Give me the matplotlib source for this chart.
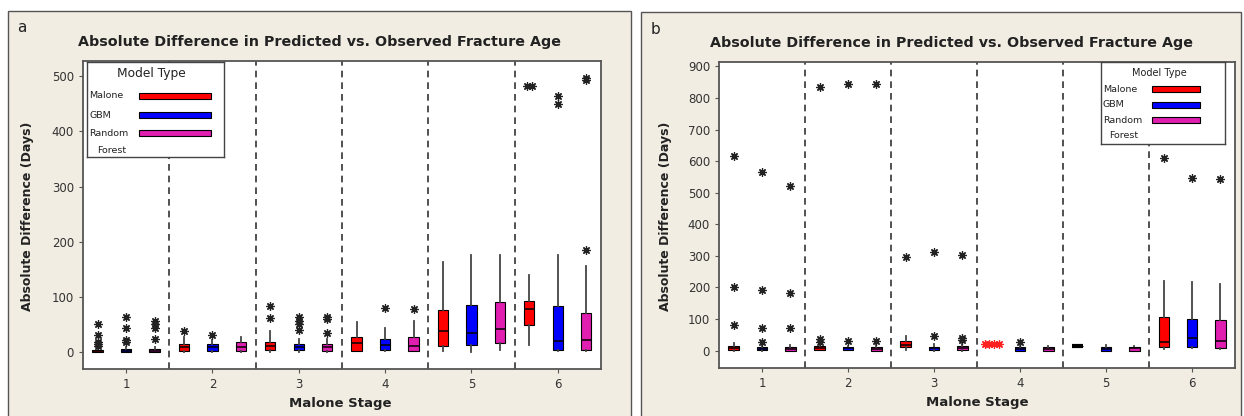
import matplotlib
matplotlib.use("Agg")
import matplotlib.pyplot as plt
from matplotlib.patches import Rectangle

# ---- data ----
stages = [1, 2, 3, 4, 5, 6]
models = ["Malone", "GBM", "Random\n Forest"]
model_colors = ["#FF0000", "#0000FF", "#E01EB0"]

# panel a: per model, per stage -> q1, median, q3, whisker low, whisker high
a_q1 = [[1, 3, 4, 3, 12, 50], [1, 3, 4, 5, 14, 5], [1, 2, 2, 3, 17, 4]]
a_med = [[3, 10, 11, 17, 38, 78], [3, 9, 10, 14, 35, 20], [3, 10, 9, 12, 42, 22]]
a_q3 = [[5, 16, 19, 27, 77, 93], [6, 15, 15, 25, 85, 84], [6, 18, 15, 27, 92, 71]]
a_lo = [[0, 1, 1, 2, 2, 14], [0, 1, 1, 3, 0, 2], [0, 1, 1, 2, 4, 3]]
a_hi = [[9, 28, 39, 55, 163, 140], [10, 22, 25, 44, 176, 176], [10, 27, 25, 57, 176, 156]]
a_out = [
    [[51, 31, 19, 15, 12], [38], [84, 62], [], [], [481, 481]],
    [[64, 45, 22, 19], [31], [64, 57, 52, 40], [81], [], [463, 450]],
    [[57, 52, 44, 24], [], [64, 60, 35], [79], [], [497, 492, 185]],
]

# panel b
b_q1 = [[2, 3, 10, None, 15, 11], [1, 3, 2, 0, 0, 13], [0, 0, 3, 0, 0, 7]]
b_med = [[8, 8, 18, None, 15, 28], [6, 7, 7, 5, 5, 39], [4, 4, 8, 4, 7, 32]]
b_q3 = [[14, 16, 30, None, 15, 107], [12, 10, 12, 10, 12, 101], [10, 12, 15, 10, 12, 96]]
b_lo = [[0, 1, 3, None, 15, 5], [0, 1, 0, 0, 0, 8], [0, 0, 0, 0, 0, 4]]
b_hi = [[25, 25, 45, None, 15, 222], [20, 15, 22, 15, 18, 217], [18, 18, 22, 16, 15, 212]]
b_out = [
    [[617, 200, 80], [834, 38, 28], [298], [], [], [611]],
    [[566, 191, 72, 28], [845, 32], [311, 45], [26], [], [548]],
    [[521, 182, 72], [845, 30], [304, 40, 35], [], [], [545]],
]
# Malone, stage 4 in panel b: only red stars
b_red_pts = [20, 20, 20, 20]

offsets = [-0.33, 0.0, 0.33]
STAR = (8, 2, 0)


def draw_stars(ax, x, vals, color="#222222", step=0.055):
    seen = {}
    for v in vals:
        seen[v] = seen.get(v, 0) + 1
    for v, n in seen.items():
        for k in range(n):
            dx = (k - (n - 1) / 2) * step
            ax.plot(x + dx, v, marker=STAR, ms=6, mew=0.9, color=color, ls="none")


def draw_panel(ax, q1, med, q3, lo, hi, outl):
    for m in range(3):
        stats, pos = [], []
        for s in range(6):
            if q1[m][s] is None:
                continue
            stats.append(dict(q1=q1[m][s], med=med[m][s], q3=q3[m][s],
                              whislo=lo[m][s], whishi=hi[m][s], fliers=[]))
            pos.append(stages[s] + offsets[m])
        bp = ax.bxp(stats, positions=pos, widths=0.12, patch_artist=True,
                    showcaps=False, showfliers=False,
                    boxprops=dict(facecolor=model_colors[m], edgecolor="black", linewidth=0.8),
                    medianprops=dict(color="black", linewidth=1.1),
                    whiskerprops=dict(color="#444444", linewidth=1.3))
        # flat boxes (all values equal) show as a thick black bar
        for st, mline in zip(stats, bp["medians"]):
            if st["q1"] == st["q3"]:
                mline.set_linewidth(3)
        for s in range(6):
            draw_stars(ax, stages[s] + offsets[m], outl[m][s])
    for xv in [1.5, 2.5, 3.5, 4.5, 5.5]:
        ax.axvline(xv, color="#333333", ls=(0, (4, 3)), lw=1.2, zorder=0)
    ax.set_xlim(0.5, 6.5)
    ax.set_xticks(stages)
    ax.set_xticklabels([str(s) for s in stages])
    for sp in ax.spines.values():
        sp.set_color("#555555")
        sp.set_linewidth(1.3)
    ax.tick_params(colors="#555555", labelcolor="#333333", labelsize=8.5, length=3)
    ax.set_xlabel("Malone Stage", fontsize=9.5, fontweight="bold", color="#222222")
    ax.set_ylabel("Absolute Difference (Days)", fontsize=9, fontweight="bold", color="#222222")


def draw_key(ax, rect, title_fs, lab_y, patch_x, patch_h):
    k = ax.inset_axes(rect)
    k.set_xlim(0, 1)
    k.set_ylim(0, 1)
    k.set_xticks([])
    k.set_yticks([])
    for sp in k.spines.values():
        sp.set_color("#444444")
        sp.set_linewidth(1.0)
    k.text(0.47, lab_y[0], "Model Type", ha="center", va="center", fontsize=title_fs, color="#222222")
    for i, name in enumerate(["Malone", "GBM", "Random"]):
        k.text(0.015, lab_y[i + 1], name, ha="left", va="center", fontsize=6.8, color="#222222")
        k.add_patch(Rectangle((patch_x[0], lab_y[i + 1] - patch_h / 2), patch_x[1] - patch_x[0], patch_h,
                              facecolor=model_colors[i], edgecolor="black", lw=0.8))
    k.text(0.07, lab_y[4], "Forest", ha="left", va="center", fontsize=6.8, color="#222222")


fig = plt.figure(figsize=(12.44, 4.16), dpi=100)
fig.patches.append(Rectangle((0.0064, -0.02), 0.5008, 0.9936, transform=fig.transFigure,
                             facecolor="#F2EDE2", edgecolor="#555555", lw=1.0, zorder=-10))
fig.patches.append(Rectangle((0.5153, -0.02), 0.4823, 0.9912, transform=fig.transFigure,
                             facecolor="#F2EDE2", edgecolor="#555555", lw=1.0, zorder=-10))

ax1 = fig.add_axes([0.0667, 0.113, 0.4164, 0.7404])
draw_panel(ax1, a_q1, a_med, a_q3, a_lo, a_hi, a_out)
ax1.set_ylim(-30, 527)
ax1.set_yticks([0, 100, 200, 300, 400, 500])
ax1.yaxis.set_label_coords(-0.095, 0.497)
ax1.xaxis.set_label_coords(0.496, -0.09)
draw_key(ax1, [0.008, 0.688, 0.264, 0.309], 8.8,
         [0.874, 0.642, 0.442, 0.253, 0.074], (0.38, 0.905), 0.063)

ax2 = fig.add_axes([0.578, 0.1154, 0.4148, 0.7356])
draw_panel(ax2, b_q1, b_med, b_q3, b_lo, b_hi, b_out)
draw_stars(ax2, stages[3] + offsets[0], b_red_pts, color="#FF2020", step=0.055)
ax2.set_ylim(-55, 914)
ax2.set_yticks(range(0, 901, 100))
ax2.yaxis.set_label_coords(-0.091, 0.497)
ax2.xaxis.set_label_coords(0.5, -0.09)
draw_key(ax2, [0.740, 0.732, 0.240, 0.268], 7,
         [0.866, 0.67, 0.476, 0.29, 0.098], (0.41, 0.80), 0.073)

fig.text(319 / 1244, 1 - 42 / 416, "Absolute Difference in Predicted vs. Observed Fracture Age",
         ha="center", va="center", fontsize=10.3, fontweight="bold", color="#222222")
fig.text(951 / 1244, 1 - 43 / 416, "Absolute Difference in Predicted vs. Observed Fracture Age",
         ha="center", va="center", fontsize=10.3, fontweight="bold", color="#222222")
fig.text(22 / 1244, 1 - 27 / 416, "a", ha="center", va="center", fontsize=11, color="#222222")
fig.text(655 / 1244, 1 - 30 / 416, "b", ha="center", va="center", fontsize=11, color="#222222")

fig.savefig("out.png", dpi=100, facecolor="white")
